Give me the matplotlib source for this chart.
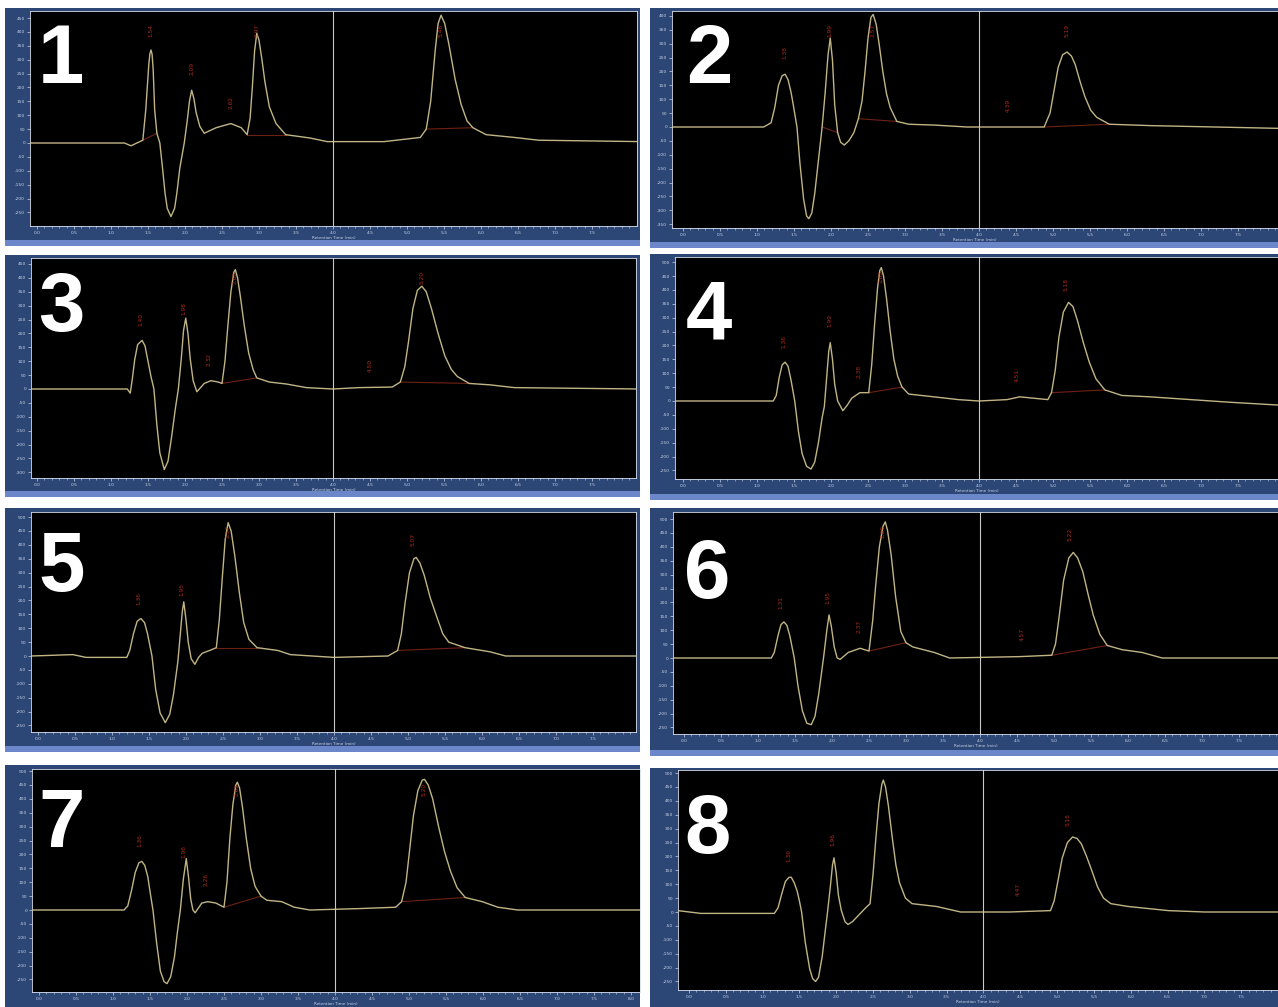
import numpy as np
import matplotlib
matplotlib.use("Agg")
import matplotlib.pyplot as plt
from matplotlib.patches import Rectangle

# ---------------- data (retention time in min, signal in mAU) ----------------
p1_x = [-0.09, 1.18, 1.27, 1.43, 1.47, 1.51, 1.525, 1.54, 1.555, 1.57, 1.59, 1.62, 1.66, 1.70, 1.73, 1.76,
        1.81, 1.86, 1.89, 1.93, 1.99, 2.03, 2.06, 2.09, 2.12, 2.15, 2.20, 2.26, 2.42, 2.62, 2.76, 2.84,
        2.88, 2.91, 2.94, 2.97, 3.00, 3.04, 3.08, 3.14, 3.23, 3.36, 3.69, 3.92, 4.69, 5.18, 5.26, 5.32,
        5.38, 5.42, 5.46, 5.51, 5.57, 5.65, 5.73, 5.81, 5.89, 6.07, 6.45, 6.78, 8.15]
p1_y = [0, 0, -10, 10, 120, 280, 320, 335, 320, 265, 120, 35, 0, -100, -180, -235,
        -265, -235, -180, -90, 0, 80, 150, 190, 160, 110, 60, 35, 55, 70, 55, 30,
        90, 200, 330, 395, 370, 300, 220, 130, 70, 30, 18, 5, 5, 20, 50, 150,
        330, 430, 460, 430, 350, 230, 140, 80, 55, 30, 20, 10, 5]
p1_peaks = [1.54, 2.09, 2.62, 2.97, 5.46]

p2_x = [-0.15, 1.09, 1.19, 1.24, 1.29, 1.34, 1.38, 1.42, 1.46, 1.49, 1.54, 1.58, 1.63, 1.67, 1.70, 1.74,
        1.78, 1.83, 1.88, 1.92, 1.96, 1.99, 2.02, 2.05, 2.09, 2.13, 2.18, 2.24, 2.31, 2.37, 2.42, 2.46,
        2.50, 2.54, 2.57, 2.61, 2.65, 2.70, 2.75, 2.80, 2.89, 3.05, 3.39, 3.84, 4.88, 4.96, 5.02, 5.07,
        5.13, 5.19, 5.25, 5.30, 5.37, 5.43, 5.51, 5.59, 5.76, 6.31, 8.07]
p2_y = [0, 0, 15, 70, 150, 185, 190, 170, 125, 80, 0, -130, -260, -320, -330, -310,
        -240, -120, 0, 120, 260, 320, 240, 80, -20, -55, -65, -50, -20, 30, 95, 200,
        320, 395, 405, 370, 300, 200, 120, 70, 20, 10, 7, 0, 0, 50, 140, 215,
        260, 270, 255, 225, 160, 110, 60, 35, 10, 5, -5]
p2_peaks = [1.38, 1.99, 2.57, 4.39, 5.19]

p3_x = [-0.08, 1.22, 1.26, 1.29, 1.32, 1.36, 1.42, 1.46, 1.50, 1.54, 1.58, 1.62, 1.66, 1.72, 1.77, 1.82,
        1.87, 1.91, 1.95, 1.98, 2.01, 2.04, 2.07, 2.11, 2.16, 2.26, 2.35, 2.45, 2.50, 2.54, 2.58, 2.62,
        2.66, 2.68, 2.71, 2.75, 2.80, 2.86, 2.92, 2.97, 3.14, 3.37, 3.64, 4.00, 4.35, 4.80, 4.91, 4.97,
        5.02, 5.08, 5.14, 5.20, 5.26, 5.33, 5.42, 5.51, 5.60, 5.68, 5.84, 6.12, 6.45, 8.15]
p3_y = [0, 0, -15, 40, 105, 160, 175, 155, 100, 45, 0, -130, -230, -290, -260, -170,
        -70, 0, 110, 210, 255, 200, 110, 30, -10, 20, 30, 25, 20, 100, 230, 350,
        420, 430, 400, 330, 230, 130, 70, 40, 25, 18, 5, 0, 5, 7, 25, 80,
        170, 290, 355, 370, 350, 290, 200, 120, 70, 45, 20, 15, 5, 0]
p3_peaks = [1.40, 1.98, 2.32, 2.68, 4.50, 5.20]

p4_x = [-0.11, 1.22, 1.26, 1.30, 1.34, 1.38, 1.42, 1.46, 1.51, 1.56, 1.61, 1.67, 1.73, 1.78, 1.83, 1.88,
        1.91, 1.94, 1.97, 1.99, 2.02, 2.05, 2.09, 2.16, 2.22, 2.28, 2.39, 2.51, 2.55, 2.59, 2.63, 2.66,
        2.68, 2.71, 2.75, 2.80, 2.85, 2.90, 2.96, 3.05, 3.39, 3.72, 4.00, 4.38, 4.55, 4.93, 4.98, 5.03,
        5.08, 5.14, 5.21, 5.27, 5.33, 5.41, 5.49, 5.58, 5.70, 5.93, 6.31, 6.86, 7.42, 8.07]
p4_y = [0, 0, 20, 85, 130, 140, 125, 75, 0, -110, -190, -235, -245, -220, -150, -60,
        -20, 80, 180, 210, 150, 60, 0, -35, -15, 10, 30, 30, 130, 280, 410, 470,
        480, 450, 370, 250, 150, 90, 50, 25, 15, 5, 0, 5, 15, 5, 30, 110,
        230, 320, 355, 340, 290, 210, 140, 80, 40, 20, 15, 5, -5, -15]
p4_peaks = [1.36, 1.99, 2.38, 2.68, 4.51, 5.18]

p5_x = [-0.09, 0.47, 0.65, 1.20, 1.24, 1.29, 1.34, 1.39, 1.44, 1.48, 1.54, 1.59, 1.65, 1.72, 1.78, 1.83,
        1.89, 1.92, 1.95, 1.97, 2.00, 2.03, 2.07, 2.12, 2.17, 2.22, 2.32, 2.41, 2.45, 2.49, 2.53, 2.57,
        2.61, 2.66, 2.72, 2.78, 2.85, 2.96, 3.24, 3.41, 4.00, 4.73, 4.86, 4.91, 4.96, 5.02, 5.08, 5.11,
        5.16, 5.22, 5.30, 5.39, 5.47, 5.55, 5.77, 6.11, 6.32, 8.14]
p5_y = [0, 5, -5, -5, 20, 80, 125, 135, 120, 80, 0, -120, -205, -240, -210, -140,
        -20, 70, 160, 195, 130, 50, -10, -30, -5, 10, 20, 30, 130, 280, 420, 480,
        450, 360, 230, 120, 60, 30, 20, 5, -5, 0, 20, 80, 190, 300, 350, 355,
        335, 290, 210, 140, 80, 50, 30, 15, 0, 0]
p5_peaks = [1.36, 1.95, 2.57, 5.07]

p6_x = [-0.15, 1.18, 1.22, 1.27, 1.31, 1.35, 1.39, 1.43, 1.49, 1.54, 1.60, 1.66, 1.72, 1.77, 1.82, 1.86,
        1.89, 1.93, 1.96, 1.99, 2.03, 2.07, 2.11, 2.22, 2.38, 2.50, 2.55, 2.59, 2.64, 2.69, 2.72, 2.75,
        2.80, 2.86, 2.93, 3.00, 3.09, 3.38, 3.59, 4.54, 4.97, 5.02, 5.07, 5.13, 5.20, 5.26, 5.32, 5.39,
        5.46, 5.53, 5.62, 5.72, 5.92, 6.19, 6.46, 8.05]
p6_y = [0, 0, 20, 80, 120, 130, 118, 80, 0, -100, -190, -235, -240, -210, -130, -50,
        10, 100, 155, 115, 40, 0, -5, 20, 35, 25, 135, 260, 400, 475, 490, 460,
        370, 220, 95, 55, 40, 20, 0, 5, 10, 50, 150, 280, 360, 380, 360, 310,
        230, 155, 85, 45, 30, 20, 0, 0]
p6_peaks = [1.31, 1.95, 2.37, 2.69, 4.57, 5.22]

p7_x = [-0.09, 1.15, 1.20, 1.25, 1.30, 1.35, 1.39, 1.43, 1.47, 1.51, 1.54, 1.59, 1.64, 1.69, 1.73, 1.78,
        1.83, 1.87, 1.91, 1.95, 1.99, 2.02, 2.05, 2.08, 2.11, 2.20, 2.28, 2.39, 2.50, 2.54, 2.58, 2.62,
        2.66, 2.68, 2.71, 2.75, 2.80, 2.86, 2.92, 3.00, 3.08, 3.28, 3.45, 3.66, 4.32, 4.82, 4.90, 4.96,
        5.01, 5.06, 5.12, 5.18, 5.21, 5.26, 5.32, 5.40, 5.48, 5.56, 5.65, 5.76, 5.99, 6.20, 6.47, 8.12]
p7_y = [0, 0, 15, 70, 135, 170, 175, 160, 120, 50, 0, -120, -220, -258, -265, -240,
        -170, -80, 0, 110, 185, 120, 40, 0, -10, 25, 30, 25, 10, 100, 260, 380,
        450, 460, 440, 370, 260, 150, 85, 50, 35, 30, 10, 0, 5, 10, 30, 100,
        220, 340, 430, 468, 470, 450, 400, 300, 210, 140, 80, 45, 30, 10, 0, 0]
p7_peaks = [1.36, 1.96, 2.26, 2.68, 5.20]

p8_x = [-0.15, 0.16, 1.16, 1.21, 1.26, 1.31, 1.36, 1.39, 1.43, 1.47, 1.50, 1.53, 1.58, 1.64, 1.68, 1.72,
        1.76, 1.81, 1.85, 1.88, 1.92, 1.95, 1.97, 2.00, 2.03, 2.07, 2.12, 2.16, 2.22, 2.31, 2.40, 2.46,
        2.50, 2.54, 2.58, 2.62, 2.64, 2.67, 2.71, 2.76, 2.81, 2.86, 2.94, 3.03, 3.36, 3.69, 4.35, 4.91,
        4.96, 5.01, 5.07, 5.14, 5.21, 5.27, 5.33, 5.40, 5.47, 5.55, 5.63, 5.73, 5.96, 6.51, 7.00, 7.99]
p8_y = [5, -5, -5, 15, 65, 110, 125, 125, 105, 75, 40, 0, -110, -205, -240, -250,
        -235, -160, -70, -5, 90, 170, 195, 140, 60, 5, -35, -45, -35, -10, 15, 30,
        135, 270, 390, 460, 475, 450, 380, 270, 170, 105, 50, 30, 20, 0, 0, 5,
        40, 110, 195, 250, 270, 265, 245, 200, 150, 90, 50, 30, 20, 5, 0, 0]
p8_peaks = [1.36, 1.96, 4.47, 5.15]

panel_names = ["1", "2", "3", "4", "5", "6", "7", "8"]
xs = [p1_x, p2_x, p3_x, p4_x, p5_x, p6_x, p7_x, p8_x]
ys = [p1_y, p2_y, p3_y, p4_y, p5_y, p6_y, p7_y, p8_y]
peaks = [p1_peaks, p2_peaks, p3_peaks, p4_peaks, p5_peaks, p6_peaks, p7_peaks, p8_peaks]

# ---------------- layout (pixels in a 1278x1007 canvas) ----------------
W, H = 1278, 1007
frames = [(5, 8, 640, 246), (650, 8, 1278, 248), (5, 255, 640, 497), (650, 254, 1278, 500),
          (5, 508, 640, 752), (650, 508, 1278, 756), (5, 765, 640, 1007), (650, 768, 1278, 1007)]
plots = [(30, 11, 637, 226), (672, 11, 1278, 228), (31, 258, 636, 478), (675, 257, 1278, 479),
         (31, 512, 636, 732), (673, 512, 1278, 734), (32, 769, 640, 992), (678, 770, 1278, 990)]
baselines = [143, 127, 389, 401, 656, 658, 910, 912]
vlines = [333, 979, 333, 979, 334, 980, 335, 985]
digit_pos = [(38, 22), (686, 22), (38, 270), (686, 278), (38, 530), (684, 537), (38, 786), (684, 792)]
YSCALE = 3.6      # mAU per pixel
XSCALE = 74.0     # pixels per minute

FRAME = "#2c4775"
BAR = "#6b86c9"
TRACE = "#d6c994"
LABEL = "#c8321c"
TICK = "#c9d2e6"

fig = plt.figure(figsize=(W / 100, H / 100), dpi=100, facecolor="white")


def fig_rect(x0, y0, x1, y1):
    return (x0 / W, 1 - y1 / H, (x1 - x0) / W, (y1 - y0) / H)


for i in range(8):
    fx0, fy0, fx1, fy1 = frames[i]
    r = fig_rect(fx0, fy0, fx1, fy1)
    fig.add_artist(Rectangle((r[0], r[1]), r[2], r[3], transform=fig.transFigure,
                             facecolor=FRAME, edgecolor="none", zorder=0))
    if fy1 < H - 2:
        rb = fig_rect(fx0, fy1 - 6, fx1, fy1)
        fig.add_artist(Rectangle((rb[0], rb[1]), rb[2], rb[3], transform=fig.transFigure,
                                 facecolor=BAR, edgecolor="none", zorder=0))

    px0, py0, px1, py1 = plots[i]
    ax = fig.add_axes(fig_rect(px0, py0, px1, py1))
    ax.set_facecolor("black")
    base, vl = baselines[i], vlines[i]
    xlo = 4.0 + (px0 - vl) / XSCALE
    xhi = 4.0 + (px1 - vl) / XSCALE
    ylo = (base - py1) * YSCALE
    yhi = (base - py0) * YSCALE
    ax.set_xlim(xlo, xhi)
    ax.set_ylim(ylo, yhi)

    x = np.array(xs[i])
    y = np.array(ys[i])
    ax.plot(x, y, color=TRACE, lw=1.0, alpha=0.9, solid_joinstyle="round", zorder=3)
    ax.axvline(4.0, color="#c8c8c8", lw=0.8, zorder=2)

    rng = yhi - ylo
    ymax = y.max()
    for rt in peaks[i]:
        apex = np.interp(rt, x, y)
        ly = min(apex + 0.1 * rng, yhi - 0.09 * rng)
        ax.text(rt, ly, f"{rt:.2f}", rotation=90, color=LABEL, fontsize=4.2,
                ha="center", va="center", zorder=4, alpha=0.85)
        # integration baseline under the large peaks
        near = np.where(np.abs(x - rt) <= 0.12)[0]
        if len(near) == 0:
            continue
        k = near[np.argmax(y[near])]
        if y[k] > 0.6 * ymax:
            lo_k = k
            while lo_k > 0 and y[lo_k] > 0.12 * y[k]:
                lo_k -= 1
            hi_k = k
            while hi_k < len(y) - 1 and y[hi_k] > 0.12 * y[k]:
                hi_k += 1
            ax.plot([x[lo_k], x[hi_k]], [y[lo_k], y[hi_k]], color="#8a2a18",
                    lw=0.8, alpha=0.8, zorder=2)

    majors = np.arange(0, 8.01, 0.5)
    majors = majors[majors <= xhi - 0.12]
    ax.set_xticks(majors)
    ax.set_xticks(np.arange(0, 8.01, 0.1), minor=True)
    ax.set_xticklabels([f"{t:.1f}" for t in majors])
    yt = np.arange(np.ceil(ylo / 50) * 50, yhi, 50)
    ax.set_yticks(yt)
    ax.set_yticklabels([f"{int(t)}" for t in yt])
    ax.tick_params(axis="both", colors=TICK, labelsize=3.2, length=2, width=0.5, pad=1.5)
    ax.tick_params(axis="x", which="minor", colors=TICK, length=1.2, width=0.4)
    ax.set_xlabel("Retention Time (min)", fontsize=3, color=TICK, labelpad=0.5)
    for s in ax.spines.values():
        s.set_color("#d9dfef")
        s.set_linewidth(0.6)

    dx, dy = digit_pos[i]
    fig.text(dx / W, 1 - dy / H, panel_names[i], color="white", fontsize=60,
             fontweight="bold", family="Liberation Sans", ha="left", va="top", zorder=10)

fig.savefig("out.png", dpi=100, facecolor="white")
